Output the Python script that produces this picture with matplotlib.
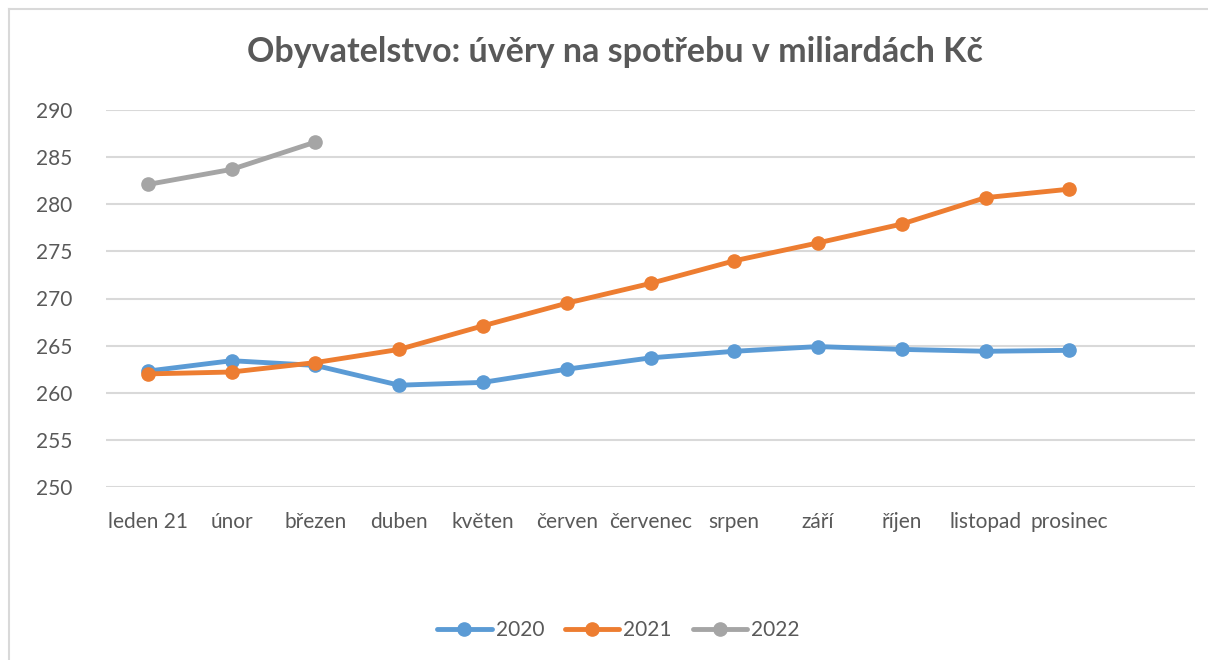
import matplotlib
matplotlib.use("Agg")
import matplotlib.pyplot as plt
from matplotlib.lines import Line2D

plt.rcParams["font.family"] = ["Lato", "DejaVu Sans"]

months = ["leden 21", "únor", "březen", "duben", "květen", "červen", "červenec",
          "srpen", "září", "říjen", "listopad", "prosinec", ""]
values_2020 = [262.3, 263.4, 262.9, 260.8, 261.1, 262.5, 263.7, 264.4, 264.9, 264.6, 264.4, 264.5]
values_2021 = [262.0, 262.2, 263.2, 264.6, 267.1, 269.5, 271.6, 274.0, 275.9, 277.9, 280.7, 281.6]
values_2022 = [282.1, 283.7, 286.6]

series = [
    ("2020", values_2020, "#5B9BD5"),
    ("2021", values_2021, "#ED7D31"),
    ("2022", values_2022, "#A5A5A5"),
]

text_color = "#595959"
grid_color = "#D9D9D9"

fig = plt.figure(figsize=(12.08, 6.6), dpi=100)
ax = fig.add_axes([106 / 1208, 1 - 487 / 660, (1195 - 106) / 1208, (487 - 110) / 660])

for name, vals, color in series:
    ax.plot(range(len(vals)), vals, color=color, linewidth=3.5, marker="o",
            markersize=9.5, label=name, solid_capstyle="round", zorder=3)

ax.set_xlim(-0.5, len(months) - 0.5)
ax.set_ylim(250, 290)
ax.set_yticks(range(250, 291, 5))
ax.set_xticks(range(len(months)))
ax.set_xticklabels(months)
ax.tick_params(axis="both", length=0, labelsize=15, colors=text_color)
ax.tick_params(axis="x", pad=18)
ax.tick_params(axis="y", pad=24)
ax.grid(axis="y", color=grid_color, linewidth=1.5)
ax.set_axisbelow(True)
for side in ax.spines.values():
    side.set_visible(False)

fig.text(0.509, 1 - 52 / 660, "Obyvatelstvo: úvěry na spotřebu v miliardách Kč",
         ha="center", va="center", fontsize=24.5, fontweight="bold", color=text_color)

leg = fig.legend(loc="center", bbox_to_anchor=(0.512, 1 - 630 / 660), ncol=3,
                 frameon=False, fontsize=15, handlelength=2.6, columnspacing=1.0,
                 handletextpad=0.2)
for t in leg.get_texts():
    t.set_color(text_color)

# chart area border (top and left edges visible)
fig.add_artist(Line2D([8.5 / 1208, 1], [1 - 8.5 / 660, 1 - 8.5 / 660],
                      transform=fig.transFigure, color=grid_color, linewidth=1.5))
fig.add_artist(Line2D([8.5 / 1208, 8.5 / 1208], [0, 1 - 8.5 / 660],
                      transform=fig.transFigure, color=grid_color, linewidth=1.5))

fig.savefig("out.png", dpi=100)
